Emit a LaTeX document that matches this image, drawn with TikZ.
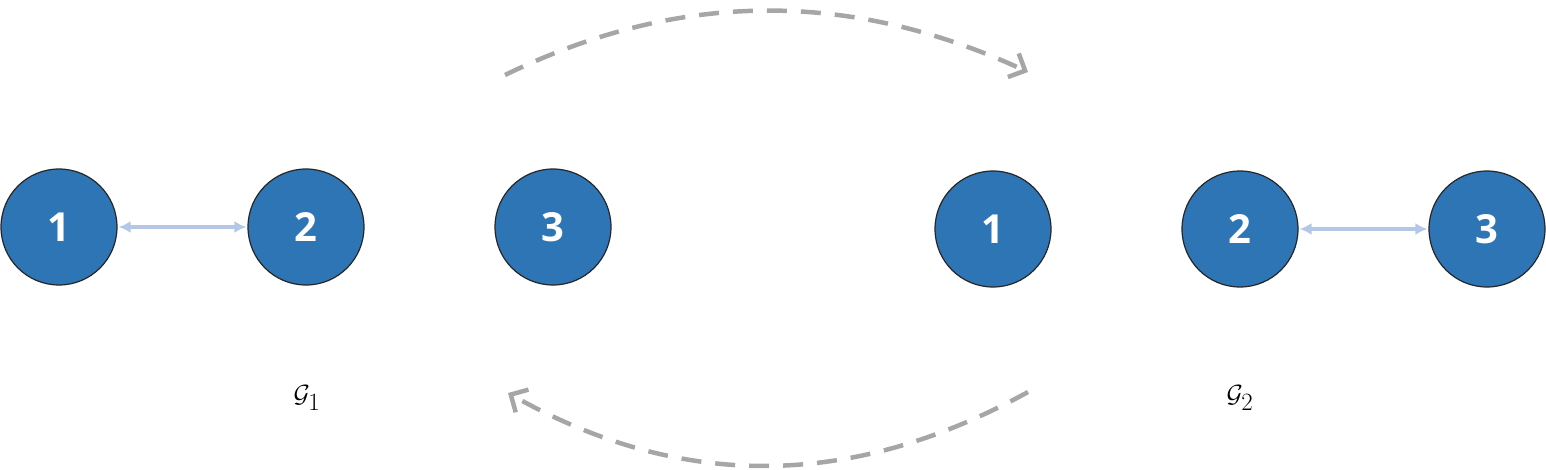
\documentclass[tikz,border=0pt]{standalone}
\usepackage{fontspec}
\newfontfamily\numfont{Open Sans}
\usetikzlibrary{arrows.meta}
\definecolor{nodeblue}{HTML}{2E75B6}
\definecolor{edgeblue}{HTML}{B4C7E7}
\definecolor{arcgray}{HTML}{A6A6A6}
\tikzset{
  vtx/.style={circle,draw=black!85,line width=1.2pt,fill=nodeblue,minimum size=116pt,inner sep=0pt,text=white,font=\numfont\bfseries\fontsize{40}{40}\selectfont},
  edg/.style={edgeblue,line width=3.5pt,{Latex[length=12pt,width=12pt]}-{Latex[length=12pt,width=12pt]},shorten <=1pt,shorten >=1pt},
  arc/.style={arcgray,line width=4.5pt,dash pattern=on 20pt off 14pt,-{Straight Barb[length=13pt,width=26pt,line width=4.5pt]}},
  lbl/.style={font=\fontsize{36}{36}\selectfont}
}
\begin{document}
\begin{tikzpicture}[x=1pt,y=-1pt]
\useasboundingbox (0,0) rectangle (1546,469);
\node[vtx] (a1) at (59,227) {1};
\node[vtx] (a2) at (306,227) {2};
\node[vtx] (a3) at (553,227) {3};
\node[vtx] (b1) at (993,229) {1};
\node[vtx] (b2) at (1240,229) {2};
\node[vtx] (b3) at (1487,229) {3};
\draw[edg] (a1) -- (a2);
\draw[edg] (b2) -- (b3);
\coordinate (t0) at (505,75);
\coordinate (t1) at (1028,72);
\coordinate (u0) at (1028,392);
\coordinate (u1) at (508,393);
\draw[arc] (t0) .. controls (680,-10) and (850,-10) .. (t1);
\draw[arc] (u0) .. controls (850,490) and (680,490) .. (u1);
\node[lbl] (g1) at (307,398) {$\mathcal{G}_1$};
\node[lbl] (g2) at (1240,398) {$\mathcal{G}_2$};
\end{tikzpicture}
\end{document}
